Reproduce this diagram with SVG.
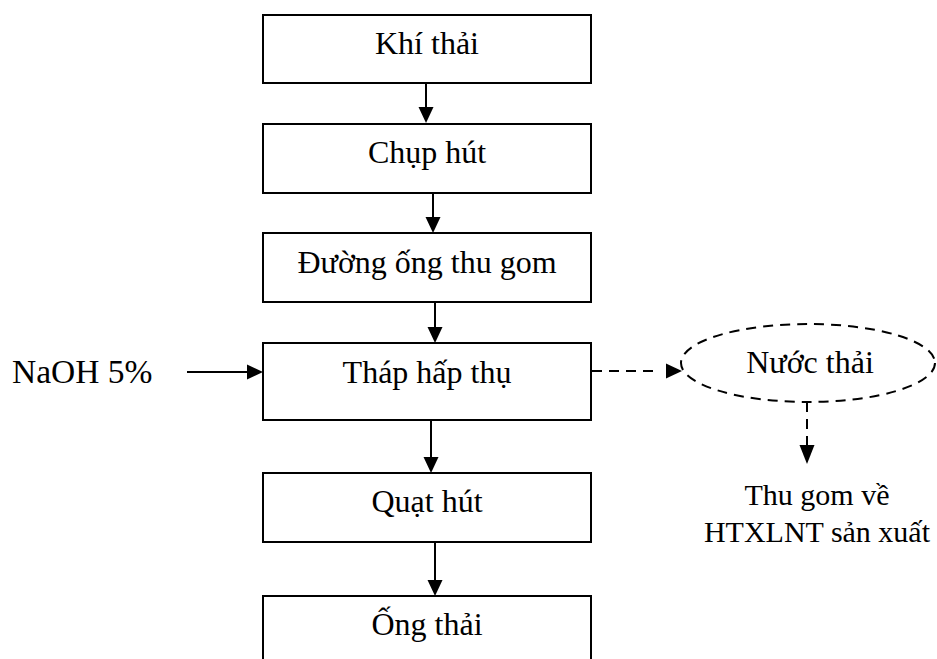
<svg xmlns="http://www.w3.org/2000/svg" width="937" height="659" viewBox="0 0 937 659">
  <style>
    .box { fill: #ffffff; stroke: #000000; stroke-width: 2; }
    .label { font-family: "Liberation Serif", "Times New Roman", serif; font-size: 32px; fill: #000000; text-anchor: middle; }
    .note { font-family: "Liberation Serif", "Times New Roman", serif; font-size: 30px; fill: #000000; text-anchor: middle; }
    .side { font-family: "Liberation Serif", "Times New Roman", serif; font-size: 33.5px; fill: #000000; }
    .flow { stroke: #000000; stroke-width: 2; fill: none; }
    .dash { stroke: #000000; stroke-width: 2; fill: none; stroke-dasharray: 10 7; }
    .head { fill: #000000; }
  </style>

  <rect width="937" height="659" fill="#ffffff"/>

  <!-- connectors -->
  <g id="connectors">
    <!-- Khí thải -> Chụp hút -->
    <line class="flow" x1="426" y1="83" x2="426" y2="108"/>
    <polygon class="head" points="418.5,107 433.5,107 426,123"/>
    <!-- Chụp hút -> Đường ống thu gom -->
    <line class="flow" x1="433" y1="193" x2="433" y2="218"/>
    <polygon class="head" points="425.5,217 440.5,217 433,233"/>
    <!-- Đường ống thu gom -> Tháp hấp thụ -->
    <line class="flow" x1="435" y1="302" x2="435" y2="328"/>
    <polygon class="head" points="427.5,327 442.5,327 435,343"/>
    <!-- Tháp hấp thụ -> Quạt hút -->
    <line class="flow" x1="431" y1="420" x2="431" y2="458"/>
    <polygon class="head" points="423.5,457 438.5,457 431,473"/>
    <!-- Quạt hút -> Ống thải -->
    <line class="flow" x1="435" y1="542" x2="435" y2="581"/>
    <polygon class="head" points="427.5,580 442.5,580 435,596"/>
    <!-- NaOH 5% -> Tháp hấp thụ -->
    <line class="flow" x1="187" y1="372" x2="248" y2="372"/>
    <polygon class="head" points="247,364.5 247,379.5 263,372"/>
    <!-- Tháp hấp thụ -> Nước thải (dashed) -->
    <line class="dash" x1="592" y1="371" x2="660" y2="371"/>
    <polygon class="head" points="666,363.5 666,378.5 682,371"/>
    <!-- Nước thải -> Thu gom về HTXLNT sản xuất (dashed) -->
    <line class="dash" x1="807" y1="402" x2="807" y2="446" stroke-dasharray="14 10"/>
    <polygon class="head" points="799.5,445 814.5,445 807,464"/>
  </g>

  <!-- process steps -->
  <g id="khi-thai">
    <rect class="box" x="263" y="15" width="328" height="68"/>
    <text class="label" x="427" y="54">Khí thải</text>
  </g>
  <g id="chup-hut">
    <rect class="box" x="263" y="124" width="328" height="69"/>
    <text class="label" x="427" y="163">Chụp hút</text>
  </g>
  <g id="duong-ong-thu-gom">
    <rect class="box" x="263" y="233" width="328" height="69"/>
    <text class="label" x="427" y="273">Đường ống thu gom</text>
  </g>
  <g id="thap-hap-thu">
    <rect class="box" x="263" y="343" width="328" height="77"/>
    <text class="label" x="427" y="383">Tháp hấp thụ</text>
  </g>
  <g id="quat-hut">
    <rect class="box" x="263" y="473" width="328" height="69"/>
    <text class="label" x="427" y="512">Quạt hút</text>
  </g>
  <g id="ong-thai">
    <rect class="box" x="263" y="596" width="328" height="80"/>
    <text class="label" x="427" y="635">Ống thải</text>
  </g>

  <!-- chemical input -->
  <g id="naoh">
    <text class="side" x="12" y="383">NaOH 5%</text>
  </g>

  <!-- wastewater stream -->
  <g id="nuoc-thai">
    <ellipse cx="808" cy="363" rx="127" ry="39" fill="none" stroke="#000000" stroke-width="2" stroke-dasharray="10 7"/>
    <text class="label" x="810" y="373">Nước thải</text>
  </g>
  <g id="thu-gom">
    <text class="note" x="817" y="505">Thu gom về</text>
    <text class="note" x="817" y="542">HTXLNT sản xuất</text>
  </g>
</svg>
